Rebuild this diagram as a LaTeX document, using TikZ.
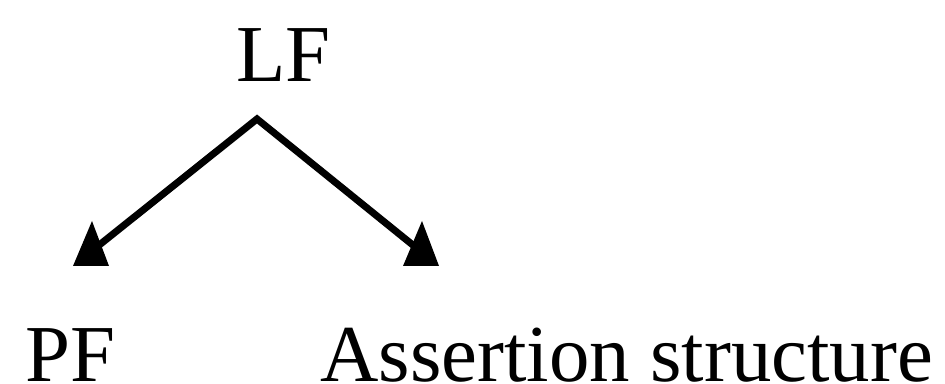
\documentclass[tikz,border=0pt]{standalone}
\usepackage{fontspec}
\setmainfont{Liberation Serif}
\usetikzlibrary{positioning}

\tikzset{
    label/.style={inner sep=0pt, anchor=base west, font=\fontsize{46}{50}\selectfont},
    link/.style={line width=4pt, line join=miter},
    head/.pic={\fill (-18,0) -- (1,-45) -- (18,0) -- cycle;}
}

\begin{document}
\begin{tikzpicture}[x=0.02cm, y=-0.02cm]
    \useasboundingbox (0,0) rectangle (945,384);

    % Levels
    \node[label] (lf) at (236,82) {LF};
    \node[label] (pf) at (25,381) {PF};
    \node[label] (as) at (320,381) {Assertion structure};

    % Branch point under LF and the two ends
    \coordinate (top) at (257,119);
    \coordinate (pfend) at (93,250);
    \coordinate (asend) at (419,250);

    % Branches
    \draw[link] (pfend) -- (top) -- (asend);

    % Arrow heads
    \pic at (91,266) {head};
    \pic at (421,266) {head};
\end{tikzpicture}
\end{document}
